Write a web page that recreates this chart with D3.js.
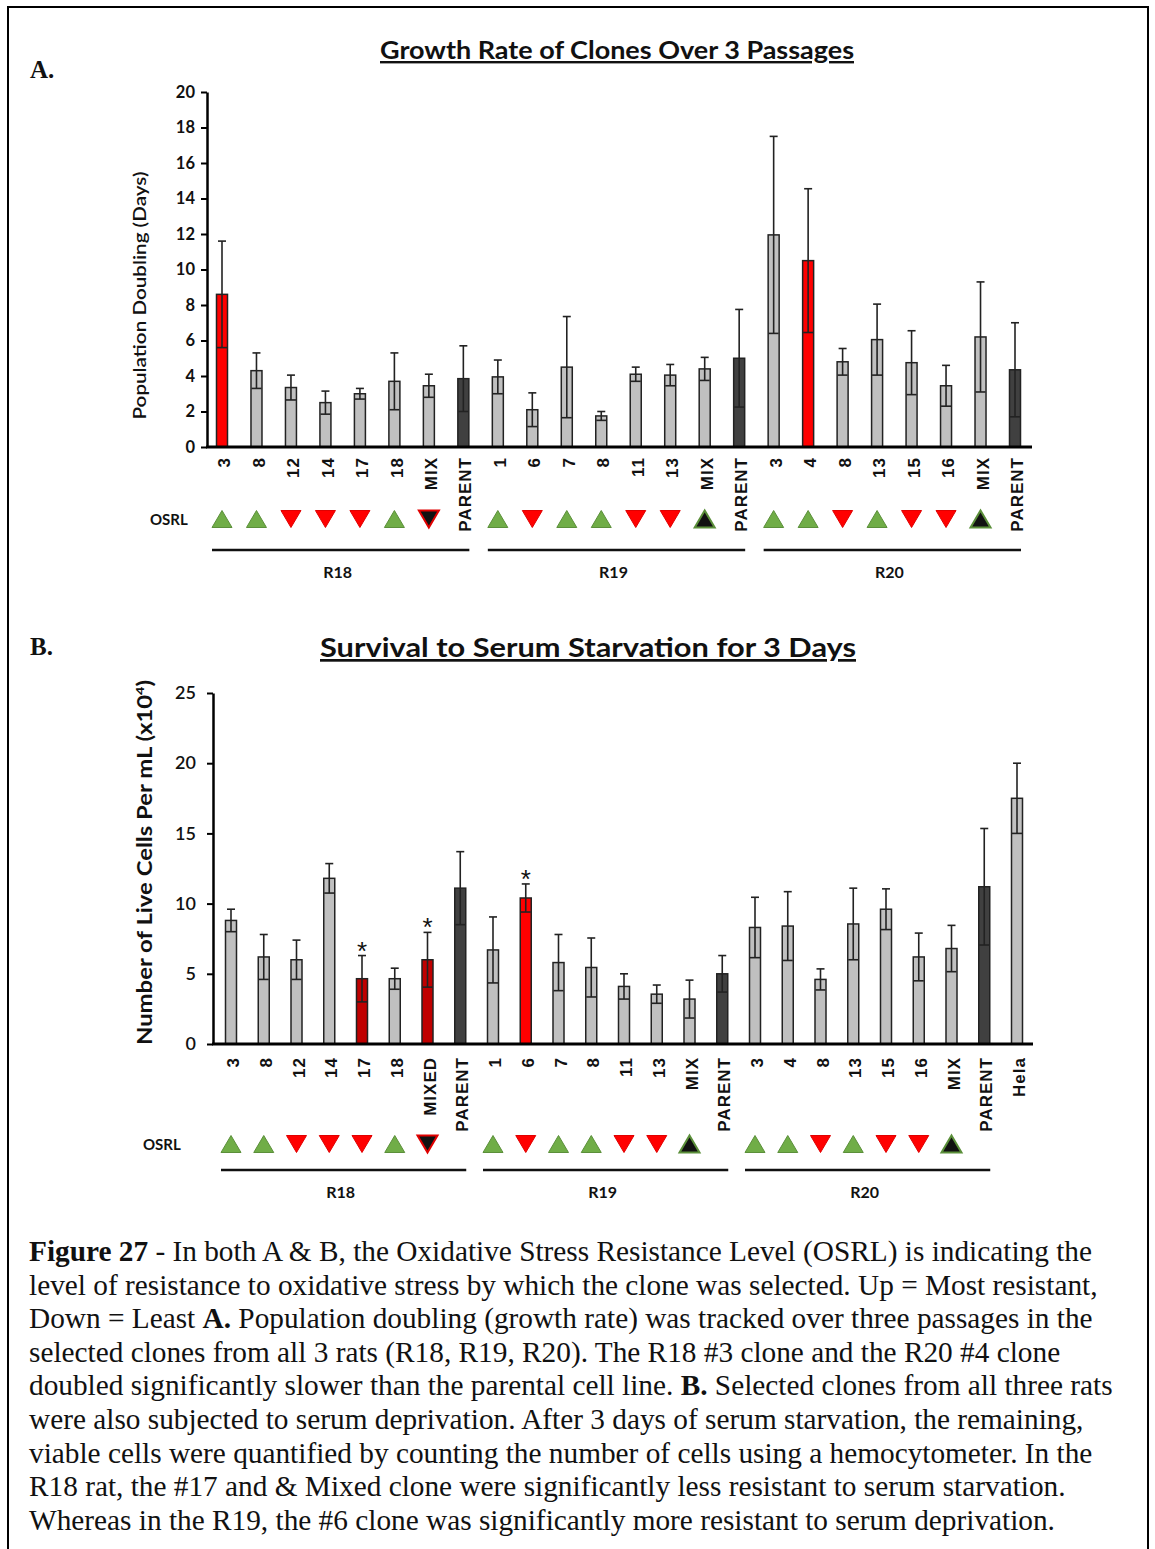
<!DOCTYPE html>
<html>
<head>
<meta charset="utf-8">
<script src="https://cdn.jsdelivr.net/npm/d3@7"></script>
<style>
  body { margin: 0; background: #fff; }
  svg text { fill: #111; }
</style>
</head>
<body>
<div id="chart"></div>
<script>
// ---- data ----
var groups = ["R18", "R19", "R20"];

// Panel A: growth rate (population doubling, days)
var labelsA = ["3", "8", "12", "14", "17", "18", "MIX", "PARENT",
               "1", "6", "7", "8", "11", "13", "MIX", "PARENT",
               "3", "4", "8", "13", "15", "16", "MIX", "PARENT"];
var valuesA = [8.6, 4.3, 3.35, 2.5, 3.0, 3.7, 3.45, 3.85,
               3.95, 2.1, 4.5, 1.75, 4.1, 4.05, 4.4, 5.0,
               11.95, 10.5, 4.8, 6.05, 4.75, 3.45, 6.2, 4.35];
var errorsA = [3.0, 1.0, 0.7, 0.65, 0.3, 1.6, 0.65, 1.85,
               0.95, 0.95, 2.85, 0.25, 0.4, 0.6, 0.65, 2.75,
               5.55, 4.05, 0.75, 2.0, 1.8, 1.15, 3.1, 2.65];
var kindsA = ["sig", "c", "c", "c", "c", "c", "c", "p",
              "c", "c", "c", "c", "c", "c", "c", "p",
              "c", "sig", "c", "c", "c", "c", "c", "p"];
var groupOfA = [0, 0, 0, 0, 0, 0, 0, 0, 1, 1, 1, 1, 1, 1, 1, 1, 2, 2, 2, 2, 2, 2, 2, 2];

// Panel B: survival to serum starvation (live cells per mL x10^4)
var labelsB = ["3", "8", "12", "14", "17", "18", "MIXED", "PARENT",
               "1", "6", "7", "8", "11", "13", "MIX", "PARENT",
               "3", "4", "8", "13", "15", "16", "MIX", "PARENT", "Hela"];
var valuesB = [8.8, 6.2, 6.0, 11.8, 4.65, 4.65, 6.0, 11.1,
               6.7, 10.4, 5.8, 5.45, 4.1, 3.55, 3.2, 5.0,
               8.3, 8.4, 4.6, 8.55, 9.6, 6.2, 6.8, 11.2, 17.5];
var errorsB = [0.8, 1.6, 1.4, 1.05, 1.65, 0.75, 1.95, 2.6,
               2.35, 1.0, 2.0, 2.1, 0.9, 0.65, 1.35, 1.3,
               2.15, 2.45, 0.75, 2.55, 1.45, 1.7, 1.65, 4.15, 2.5];
var kindsB = ["c", "c", "c", "c", "less", "c", "less", "p",
              "c", "more", "c", "c", "c", "c", "c", "p",
              "c", "c", "c", "c", "c", "c", "c", "p", "c"];
var starsB = [4, 6, 9];
var groupOfB = [0, 0, 0, 0, 0, 0, 0, 0, 1, 1, 1, 1, 1, 1, 1, 1, 2, 2, 2, 2, 2, 2, 2, 2, -1];

// OSRL markers per bar (same layout in both panels); "" = no marker
var osrl = ["up", "up", "down", "down", "down", "up", "mixdown", "",
            "up", "down", "up", "up", "down", "down", "mixup", "",
            "up", "up", "down", "up", "down", "down", "mixup", ""];

var captionLines = [
  [["Figure 27", true], [" - In both A & B, the Oxidative Stress Resistance Level (OSRL) is indicating the", false]],
  [["level of resistance to oxidative stress by which the clone was selected. Up = Most resistant,", false]],
  [["Down = Least ", false], ["A.", true], [" Population doubling (growth rate) was tracked over three passages in the", false]],
  [["selected clones from all 3 rats (R18, R19, R20). The R18 #3 clone and the R20 #4 clone", false]],
  [["doubled significantly slower than the parental cell line. ", false], ["B.", true], [" Selected clones from all three rats", false]],
  [["were also subjected to serum deprivation. After 3 days of serum starvation, the remaining,", false]],
  [["viable cells were quantified by counting the number of cells using a hemocytometer. In the", false]],
  [["R18 rat, the #17 and & Mixed clone were significantly less resistant to serum starvation.", false]],
  [["Whereas in the R19, the #6 clone was significantly more resistant to serum deprivation.", false]]
];

// ---- drawing ----
var svgWidth = 1155, svgHeight = 1549;
var sans = "Lato, 'Open Sans', sans-serif";
var serif = "'Liberation Serif', 'Times New Roman', serif";

var svg = d3.select("#chart").append("svg")
    .attr("width", svgWidth)
    .attr("height", svgHeight);

// page frame
svg.append("path")
    .attr("d", "M8,1560 L8,7 L1148,7 L1148,1560")
    .attr("fill", "none")
    .attr("stroke", "#000")
    .attr("stroke-width", 2);

var fills = { c: "#c0c0c0", p: "#404040", sig: "#ff0000", less: "#c00000", more: "#ff0000" };

function drawPanel(cfg) {
    var g = svg.append("g");

    var x = d3.scalePoint()
        .domain(d3.range(cfg.labels.length))
        .range([cfg.x0, cfg.x1]);

    var y = d3.scaleLinear()
        .domain([0, cfg.ymax])
        .range([cfg.yBottom, cfg.yTop]);

    // panel letter
    g.append("text")
        .attr("x", 30).attr("y", cfg.letterY)
        .attr("font-family", serif).attr("font-weight", "bold")
        .attr("font-size", 25)
        .text(cfg.letter);

    // title
    g.append("text")
        .attr("x", cfg.titleX).attr("y", cfg.titleY)
        .attr("text-anchor", "middle")
        .attr("font-family", sans).attr("font-weight", "bold")
        .attr("font-size", cfg.titleSize)
        .attr("text-decoration", "underline")
        .attr("textLength", cfg.titleLen)
        .attr("lengthAdjust", "spacingAndGlyphs")
        .text(cfg.title);

    // y axis
    var yAxis = g.append("g")
        .attr("transform", `translate(${cfg.axisX},0)`)
        .call(d3.axisLeft(y).tickValues(cfg.ticks).tickSize(6).tickSizeOuter(0).tickPadding(cfg.tickPad));
    yAxis.select(".domain").attr("stroke", "#000").attr("stroke-width", 2.5);
    yAxis.selectAll(".tick line").attr("stroke", "#000").attr("stroke-width", 2);
    yAxis.selectAll(".tick text")
        .attr("font-family", sans).attr("font-weight", cfg.tickWeight)
        .attr("font-size", cfg.tickSize).attr("fill", "#111");

    // y label
    g.append("text")
        .attr("transform", `translate(${cfg.ylabX},${(cfg.yBottom + cfg.yTop) / 2 + cfg.ylabShift}) rotate(-90)`)
        .attr("text-anchor", "middle")
        .attr("font-family", sans).attr("font-weight", cfg.ylabWeight)
        .attr("font-size", cfg.ylabSize)
        .attr("textLength", cfg.ylabLen)
        .attr("lengthAdjust", "spacingAndGlyphs")
        .html(cfg.ylab);

    // bars
    var idx = d3.range(cfg.labels.length);
    g.selectAll("rect.bar")
        .data(idx)
        .enter().append("rect")
        .attr("class", "bar")
        .attr("x", i => x(i) - 5.5)
        .attr("width", 11)
        .attr("y", i => y(cfg.values[i]))
        .attr("height", i => y(0) - y(cfg.values[i]))
        .attr("fill", i => fills[cfg.kinds[i]])
        .attr("stroke", "#222")
        .attr("stroke-width", 1.5);

    // error bars (both directions)
    var eb = g.selectAll("g.err")
        .data(idx)
        .enter().append("g")
        .attr("class", "err")
        .attr("stroke", "#222")
        .attr("stroke-width", 1.6);
    eb.append("line")
        .attr("x1", i => x(i)).attr("x2", i => x(i))
        .attr("y1", i => y(cfg.values[i] - cfg.errors[i]))
        .attr("y2", i => y(cfg.values[i] + cfg.errors[i]));
    eb.append("line")
        .attr("x1", i => x(i) - 4).attr("x2", i => x(i) + 4)
        .attr("y1", i => y(cfg.values[i] + cfg.errors[i]))
        .attr("y2", i => y(cfg.values[i] + cfg.errors[i]));
    eb.append("line")
        .attr("x1", i => x(i) - 5).attr("x2", i => x(i) + 5)
        .attr("y1", i => y(cfg.values[i] - cfg.errors[i]))
        .attr("y2", i => y(cfg.values[i] - cfg.errors[i]));

    // significance stars
    g.selectAll("text.star")
        .data(cfg.stars)
        .enter().append("text")
        .attr("class", "star")
        .attr("x", i => x(i))
        .attr("y", i => y(cfg.values[i] + cfg.errors[i]) + 4)
        .attr("text-anchor", "middle")
        .attr("font-family", "'Liberation Sans', Arial, sans-serif")
        .attr("font-size", 26)
        .text("*");

    // x axis line
    g.append("line")
        .attr("x1", cfg.axisX - 1).attr("x2", cfg.xAxisEnd)
        .attr("y1", y(0)).attr("y2", y(0))
        .attr("stroke", "#000").attr("stroke-width", 2.8);

    // category labels, rotated
    g.selectAll("text.cat")
        .data(idx)
        .enter().append("text")
        .attr("class", "cat")
        .attr("transform", i => `translate(${x(i) + 2},${cfg.labTop}) rotate(-90)`)
        .attr("text-anchor", "end")
        .attr("dy", "0.36em")
        .attr("font-family", "'Liberation Sans', Arial, sans-serif")
        .attr("font-weight", "bold")
        .attr("font-size", 17)
        .attr("letter-spacing", 1)
        .text(i => cfg.labels[i]);

    // OSRL row
    g.append("text")
        .attr("x", cfg.osrlX).attr("y", cfg.osrlY + 6)
        .attr("font-family", sans).attr("font-weight", "bold")
        .attr("font-size", 15)
        .text("OSRL");

    var tw = 10, th = 17;
    var marks = idx.filter(i => osrl[i]);
    var tri = g.selectAll("g.tri")
        .data(marks)
        .enter().append("g")
        .attr("class", "tri")
        .attr("transform", i => `translate(${x(i)},${cfg.osrlY})`);
    tri.append("path")
        .attr("d", i => osrl[i].indexOf("up") >= 0
            ? `M${-tw},${th / 2} L${tw},${th / 2} L0,${-th / 2} Z`
            : `M${-tw},${-th / 2} L${tw},${-th / 2} L0,${th / 2} Z`)
        .attr("fill", i => osrl[i] === "up" ? "#70ad47" : osrl[i] === "down" ? "#ff0000" : "#111")
        .attr("stroke", i => osrl[i].indexOf("up") >= 0 ? "#5b8f3a" : "#e00000")
        .attr("stroke-width", i => osrl[i].indexOf("mix") === 0 ? 2 : 1);

    // group lines and names
    groups.forEach(function(name, gi) {
        var members = idx.filter(i => cfg.groupOf[i] === gi);
        var a = x(members[0]) - 10, b = x(members[members.length - 1]) + 6;
        g.append("line")
            .attr("x1", a).attr("x2", b)
            .attr("y1", cfg.groupLineY).attr("y2", cfg.groupLineY)
            .attr("stroke", "#111").attr("stroke-width", 2.5);
        g.append("text")
            .attr("x", (a + b) / 2 - 3).attr("y", cfg.groupLineY + 28)
            .attr("text-anchor", "middle")
            .attr("font-family", sans).attr("font-weight", "bold")
            .attr("font-size", 16)
            .text(name);
    });
}

drawPanel({
    letter: "A.", letterY: 78,
    title: "Growth Rate of Clones Over 3 Passages", titleX: 617, titleY: 59, titleSize: 24, titleLen: 474,
    labels: labelsA, values: valuesA, errors: errorsA, kinds: kindsA, groupOf: groupOfA, stars: [],
    x0: 222, x1: 1015, axisX: 207, xAxisEnd: 1032,
    ymax: 20, ticks: d3.range(0, 21, 2), yBottom: 447, yTop: 92,
    tickPad: 6, tickSize: 16.5, tickWeight: "bold",
    ylab: "Population Doubling (Days)", ylabX: 146, ylabShift: 26, ylabSize: 17.5, ylabWeight: "600", ylabLen: 248,
    labTop: 457, osrlX: 150, osrlY: 519, groupLineY: 550
});

drawPanel({
    letter: "B.", letterY: 655,
    title: "Survival to Serum Starvation for 3 Days", titleX: 588, titleY: 657, titleSize: 27, titleLen: 536,
    labels: labelsB, values: valuesB, errors: errorsB, kinds: kindsB, groupOf: groupOfB, stars: starsB,
    x0: 231, x1: 1017, axisX: 213, xAxisEnd: 1033,
    ymax: 25, ticks: d3.range(0, 26, 5), yBottom: 1044, yTop: 693,
    tickPad: 11, tickSize: 18, tickWeight: "600",
    ylab: "Number of Live Cells Per mL (x10<tspan dy='-8' font-size='12'>4</tspan><tspan dy='8'>)</tspan>",
    ylabX: 152, ylabShift: -6, ylabSize: 20, ylabWeight: "bold", ylabLen: 365,
    labTop: 1057, osrlX: 143, osrlY: 1144, groupLineY: 1170
});

// caption
var cap = svg.append("g");
captionLines.forEach(function(line, li) {
    var t = cap.append("text")
        .attr("x", 29)
        .attr("y", 1261 + li * 33.6)
        .attr("font-family", serif)
        .attr("font-size", 29.3);
    line.forEach(function(part) {
        t.append("tspan")
            .attr("font-weight", part[1] ? "bold" : "normal")
            .text(part[0]);
    });
});
</script>
</body>
</html>
